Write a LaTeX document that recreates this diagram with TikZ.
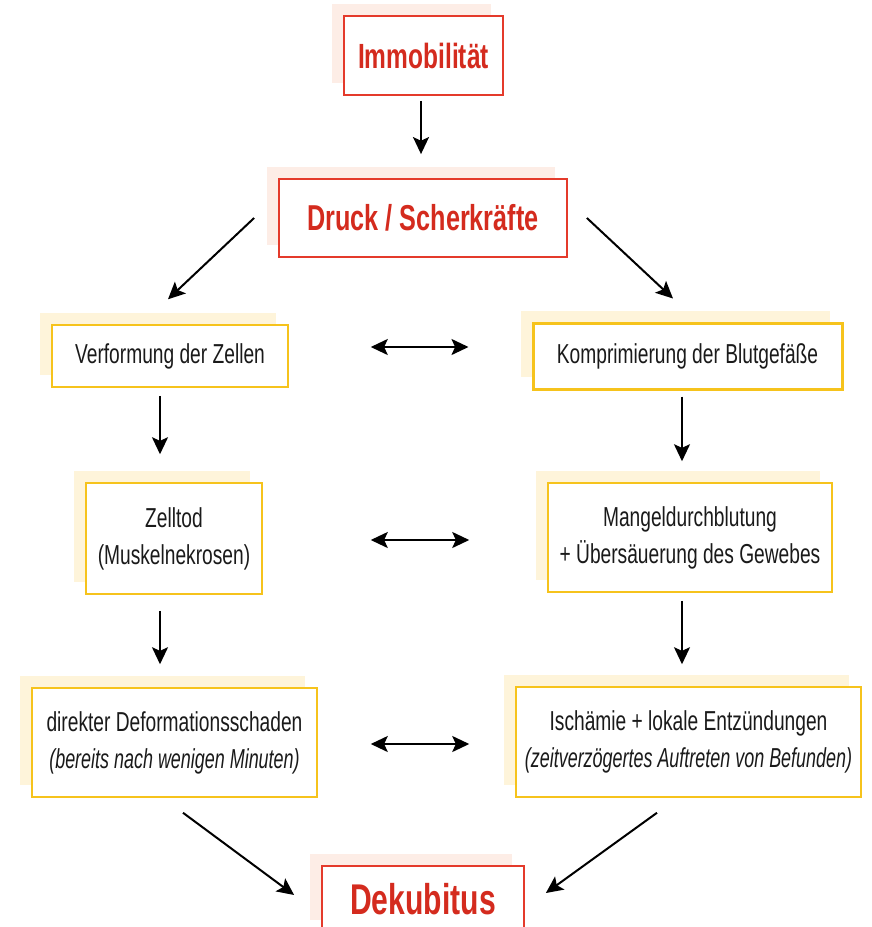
\documentclass[tikz,border=0pt]{standalone}
\usepackage{fontspec}
\setmainfont{Liberation Sans}[FakeStretch=0.7, ItalicFeatures={FakeStretch=0.655}]
\usetikzlibrary{shadows,arrows.meta}
\definecolor{dekred}{HTML}{D42B1E}
\definecolor{dekredline}{HTML}{E43A2B}
\definecolor{dekpink}{HTML}{FDEDE6}
\definecolor{dekyellow}{HTML}{F6C31C}
\definecolor{dekcream}{HTML}{FEF4DA}
\definecolor{dektext}{HTML}{1A1A1A}
\tikzset{
    redbox/.style={draw=dekredline, line width=0.9pt, fill=white, text=dekred,
        font=\bfseries, inner sep=0pt, align=center,
        general shadow={fill=dekpink, shadow xshift=-6pt, shadow yshift=6pt}},
    yelbox/.style={draw=dekyellow, line width=0.75pt, fill=white, text=dektext,
        font=\fontsize{13.7}{18.5}\selectfont, inner sep=0pt, align=center,
        general shadow={fill=dekcream, shadow xshift=-6pt, shadow yshift=6pt}},
    tip/.style={Stealth[length=8.5pt, width=8pt, inset=1.8pt]},
    arr/.style={line width=1pt, -{Stealth[length=8.5pt, width=8pt, inset=1.8pt]}},
    dbl/.style={line width=1pt, {Stealth[length=8.5pt, width=8pt, inset=1.8pt]}-{Stealth[length=8.5pt, width=8pt, inset=1.8pt]}}
}
\begin{document}
\begin{tikzpicture}[x=0.5pt, y=-0.5pt]
        \useasboundingbox (0,0) rectangle (872,927);
        % top
        \node[redbox, minimum width=79.5pt, minimum height=39.5pt, font=\bfseries\fontsize{17.5}{20}\selectfont] (imm) at (423.5,55.5) {Immobilität};
        \node[redbox, minimum width=144pt, minimum height=39pt, font=\bfseries\fontsize{18}{20}\selectfont] (druck) at (423,218) {Druck / Scherkräfte};
        % left column
        \node[yelbox, minimum width=118pt, minimum height=31pt] (verf) at (170,356) {Verformung der Zellen};
        \node[yelbox, minimum width=88pt, minimum height=55.5pt] (zell) at (174,538.5) {Zelltod\\(Muskelnekrosen)};
        \node[yelbox, minimum width=142.5pt, minimum height=54.5pt] (direkt) at (174.5,742.5) {direkter Deformationsschaden\\\textit{(bereits nach wenigen Minuten)}};
        % right column
        \node[yelbox, line width=1.5pt, minimum width=154.5pt, minimum height=33pt] (komp) at (687.5,356) {Komprimierung der Blutgefäße};
        \node[yelbox, minimum width=142pt, minimum height=54.5pt] (mangel) at (690,537.5) {Mangeldurchblutung\\+ Übersäuerung des Gewebes};
        \node[yelbox, minimum width=172.5pt, minimum height=55pt] (isch) at (688.5,742) {Ischämie + lokale Entzündungen\\\textit{(zeitverzögertes Auftreten von Befunden)}};
        % bottom
        \node[redbox, minimum width=101pt, minimum height=33pt, font=\bfseries\fontsize{21.5}{24}\selectfont] (dekub) at (423,899) {Dekubitus};

        \draw[arr] ([xshift=-1.25pt,yshift=-2.5pt]imm.south) -- ([xshift=-1pt,yshift=12pt]druck.north);
        \draw[arr] ([xshift=-12pt]druck.west) -- ([xshift=-1pt,yshift=12.5pt]verf.north);
        \draw[arr] ([xshift=9.5pt]druck.east) -- ([xshift=-7.25pt,yshift=11.5pt]komp.north);
        \draw[arr] ([xshift=-5pt,yshift=-4pt]verf.south) -- ([xshift=-7pt,yshift=14pt]zell.north);
        \draw[arr] ([xshift=-7pt,yshift=-8pt]zell.south) -- ([xshift=-7.25pt,yshift=11.5pt]direkt.north);
        \draw[arr] ([xshift=-2.75pt,yshift=-3pt]komp.south) -- ([xshift=-4pt,yshift=10.5pt]mangel.north);
        \draw[arr] ([xshift=-4pt,yshift=-4pt]mangel.south) -- ([xshift=-3.25pt,yshift=11pt]isch.north);
        \draw[arr] ([xshift=4.25pt,yshift=-7.5pt]direkt.south) -- ([xshift=-13.5pt,yshift=2pt]dekub.west);
        \draw[arr] ([xshift=-15.75pt,yshift=-7.5pt]isch.south) -- ([xshift=10.5pt,yshift=3pt]dekub.east);

        \draw[dbl] ([xshift=41pt,yshift=4.5pt]verf.east) -- ([xshift=-31.5pt,yshift=4.5pt]komp.west);
        \draw[dbl] ([xshift=54pt,yshift=-0.75pt]zell.east) -- ([xshift=-39pt,yshift=-1.25pt]mangel.west);
        \draw[dbl] ([xshift=26.5pt,yshift=-0.75pt]direkt.east) -- ([xshift=-23pt,yshift=-1pt]isch.west);
\end{tikzpicture}
\end{document}
